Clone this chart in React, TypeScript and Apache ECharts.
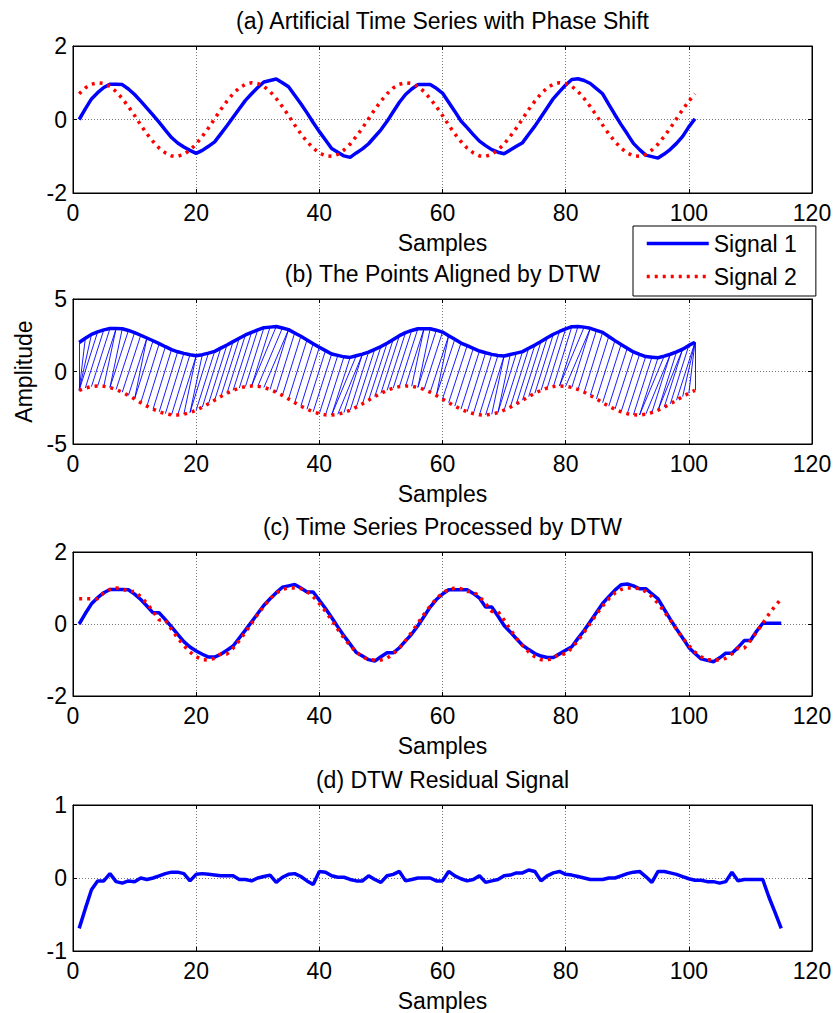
import React, { useEffect, useRef } from "react";
import * as echarts from "echarts";

// ---------- data ----------
// Signal 1 (blue), samples 1..101
const signal1: number[] = [
  0.0, 0.29, 0.56, 0.73, 0.87, 0.96, 0.96, 0.95, 0.83, 0.68,
  0.5, 0.31, 0.12, -0.08, -0.29, -0.49, -0.64, -0.75, -0.84, -0.92,
  -0.84, -0.73, -0.61, -0.39, -0.17, 0.06, 0.29, 0.52, 0.7, 0.87,
  1.02, 1.06, 1.1, 1.0, 0.89, 0.66, 0.43, 0.18, -0.08, -0.33,
  -0.56, -0.79, -0.89, -0.99, -1.03, -0.91, -0.8, -0.66, -0.47, -0.28,
  -0.05, 0.21, 0.47, 0.68, 0.83, 0.95, 0.95, 0.95, 0.85, 0.72,
  0.47, 0.22, -0.04, -0.22, -0.41, -0.59, -0.71, -0.82, -0.89, -0.93,
  -0.83, -0.73, -0.63, -0.4, -0.18, 0.07, 0.32, 0.57, 0.76, 0.94,
  1.09, 1.11, 1.06, 0.98, 0.84, 0.7, 0.41, 0.13, -0.14, -0.39,
  -0.65, -0.82, -0.97, -1.01, -1.05, -0.94, -0.81, -0.65, -0.46, -0.2,
  0.02,
];

// Signal 2 (red dotted), samples 1..101
const signal2: number[] = [
  0.7, 0.86, 0.96, 1.0, 0.98, 0.9, 0.76, 0.57, 0.35, 0.11,
  -0.15, -0.39, -0.6, -0.78, -0.91, -0.99, -1.0, -0.95, -0.83, -0.67,
  -0.46, -0.23, 0.02, 0.27, 0.5,
  0.7, 0.86, 0.96, 1.0, 0.98, 0.9, 0.76, 0.57, 0.35, 0.11,
  -0.15, -0.39, -0.6, -0.78, -0.91, -0.99, -1.0, -0.95, -0.83, -0.67,
  -0.46, -0.23, 0.02, 0.27, 0.5,
  0.7, 0.86, 0.96, 1.0, 0.98, 0.9, 0.76, 0.57, 0.35, 0.11,
  -0.15, -0.39, -0.6, -0.78, -0.91, -0.99, -1.0, -0.95, -0.83, -0.67,
  -0.46, -0.23, 0.02, 0.27, 0.5,
  0.7, 0.86, 0.96, 1.0, 0.98, 0.9, 0.76, 0.57, 0.35, 0.11,
  -0.15, -0.39, -0.6, -0.78, -0.91, -0.99, -1.0, -0.95, -0.83, -0.67,
  -0.46, -0.23, 0.02, 0.27, 0.5,
  0.7,
];

// DTW warping path (1-based sample indices of Signal 1 and Signal 2), 115 steps
const pathI: number[] = [
  1, 2, 3, 4, 5, 6, 7, 7, 8, 9, 10, 11, 12, 12, 13, 14, 15, 16, 17, 18,
  19, 20, 20, 21, 22, 23, 24, 25, 26, 27, 28, 29, 30, 31, 32, 33, 34, 35, 35, 36,
  37, 38, 39, 40, 41, 42, 43, 44, 45, 46, 47, 47, 48, 49, 50, 51, 52, 53, 54, 55,
  56, 57, 57, 58, 59, 60, 61, 61, 62, 63, 64, 65, 66, 67, 68, 69, 70, 70, 71, 72,
  73, 74, 75, 76, 77, 78, 79, 80, 81, 82, 83, 84, 84, 85, 86, 87, 88, 89, 90, 91,
  92, 93, 94, 95, 96, 97, 97, 98, 99, 99, 100, 101, 101, 101, 101,
];
const pathJ: number[] = [
  1, 1, 1, 1, 2, 3, 4, 5, 6, 6, 7, 8, 9, 10, 10, 11, 12, 13, 14, 15,
  16, 17, 18, 19, 19, 20, 21, 22, 23, 24, 25, 26, 27, 28, 29, 29, 30, 31, 32, 33,
  34, 35, 36, 37, 38, 39, 40, 41, 42, 42, 43, 44, 45, 46, 47, 48, 49, 50, 51, 52,
  53, 54, 55, 56, 56, 57, 58, 59, 59, 60, 61, 62, 63, 64, 65, 66, 67, 68, 69, 69,
  70, 71, 72, 73, 74, 75, 76, 77, 78, 79, 79, 80, 81, 82, 83, 84, 85, 86, 87, 88,
  89, 90, 91, 92, 92, 93, 94, 95, 95, 96, 97, 98, 99, 100, 101,
];

// DTW residual signal (panel d), steps 1..115
const residual: number[] = [
  -0.69, -0.42, -0.16, -0.04, -0.04, 0.06, -0.05, -0.07, -0.04, -0.05,
  0.0, -0.02, 0.0, 0.03, 0.06, 0.08, 0.08, 0.06, -0.04, 0.05,
  0.06, 0.05, 0.04, 0.03, 0.03, 0.03, -0.02, -0.02, -0.04, 0.0,
  0.02, 0.04, -0.06, 0.01, 0.05, 0.06, 0.02, -0.04, -0.09, 0.09,
  0.08, 0.03, 0.01, 0.01, -0.02, -0.04, -0.04, 0.03, -0.02, -0.06,
  0.03, 0.05, 0.09, -0.04, -0.02, 0.0, 0.0, 0.0, -0.04, -0.04,
  0.09, 0.03, -0.01, -0.04, -0.02, 0.03, -0.06, -0.04, -0.02, 0.03,
  0.04, 0.07, 0.07, 0.11, 0.09, -0.04, 0.03, 0.07, 0.09, 0.05,
  0.04, 0.02, 0.0, -0.02, -0.02, -0.02, 0.0, 0.0, 0.03, 0.06,
  0.08, 0.09, 0.02, -0.06, 0.09, 0.09, 0.07, 0.05, 0.02, -0.01,
  -0.03, -0.03, -0.05, -0.05, -0.07, -0.05, 0.08, -0.04, -0.02, -0.02,
  -0.02, -0.02, -0.26, -0.47, -0.69,
];

// vertical offset used in panel (b)
const alignOffset = 2;

const titles = [
  "(a) Artificial Time Series with Phase Shift",
  "(b) The Points Aligned by DTW",
  "(c) Time Series Processed by DTW",
  "(d) DTW Residual Signal",
];
const yLimits = [2, 5, 2, 1];
const xTicks = { min: 0, max: 120, interval: 20 };

// ---------- layout ----------
const FONT = "'Liberation Sans', Arial, Helvetica, sans-serif";
const FS = 23;
const BLUE = "#0000ff";
const RED = "#ff0000";
const GRID_LEFT = 73;
const GRID_RIGHT = 23;
const grids = [
  { top: 46, height: 147 },
  { top: 299, height: 145 },
  { top: 552, height: 144 },
  { top: 805, height: 146 },
];

function buildOption() {
  const idx = (n: number) => Array.from({ length: n }, (_, k) => k + 1);
  const s1Pts = signal1.map((v, k) => [k + 1, v]);
  const s2Pts = signal2.map((v, k) => [k + 1, v]);
  const s1Up = signal1.map((v, k) => [k + 1, v + alignOffset]);
  const s2Down = signal2.map((v, k) => [k + 1, v - alignOffset]);
  const links = pathI.map((i, k) => ({
    coords: [
      [i, signal1[i - 1] + alignOffset],
      [pathJ[k], signal2[pathJ[k] - 1] - alignOffset],
    ],
  }));
  const warp1 = idx(pathI.length).map((k) => [k, signal1[pathI[k - 1] - 1]]);
  const warp2 = idx(pathJ.length).map((k) => [k, signal2[pathJ[k - 1] - 1]]);
  const resPts = residual.map((v, k) => [k + 1, v]);

  const plotW = 835 - GRID_LEFT - GRID_RIGHT;
  const cx = GRID_LEFT + plotW / 2;

  const xAxis: any[] = [];
  const yAxis: any[] = [];
  grids.forEach((g, gi) => {
    xAxis.push({
      gridIndex: gi,
      type: "value",
      ...xTicks,
      axisLine: { show: true, onZero: false, lineStyle: { color: "#000", width: 1 } },
      axisTick: { show: true, inside: true, length: 4, lineStyle: { color: "#000" } },
      axisLabel: { color: "#000", fontSize: FS, fontFamily: FONT, margin: 8 },
      splitLine: { show: true, lineStyle: { color: "#777", type: [1, 2], width: 1 } },
      name: "Samples",
      nameLocation: "middle",
      nameGap: 38,
      nameTextStyle: { color: "#000", fontSize: FS, fontFamily: FONT },
    });
    xAxis.push({
      gridIndex: gi,
      type: "value",
      position: "top",
      ...xTicks,
      axisLine: { show: true, onZero: false, lineStyle: { color: "#000", width: 1 } },
      axisTick: { show: true, inside: true, length: 4, lineStyle: { color: "#000" } },
      axisLabel: { show: false },
      splitLine: { show: false },
    });
    const lim = yLimits[gi];
    yAxis.push({
      gridIndex: gi,
      type: "value",
      min: -lim,
      max: lim,
      interval: lim,
      axisLine: { show: true, onZero: false, lineStyle: { color: "#000", width: 1 } },
      axisTick: { show: true, inside: true, length: 4, lineStyle: { color: "#000" } },
      axisLabel: { color: "#000", fontSize: FS, fontFamily: FONT, margin: 6 },
      splitLine: { show: true, lineStyle: { color: "#777", type: [1, 2], width: 1 } },
      ...(gi === 1
        ? {
            name: "Amplitude",
            nameLocation: "middle",
            nameRotate: 90,
            nameGap: 31,
            nameTextStyle: { color: "#000", fontSize: FS, fontFamily: FONT },
          }
        : {}),
    });
    yAxis.push({
      gridIndex: gi,
      type: "value",
      position: "right",
      min: -lim,
      max: lim,
      interval: lim,
      axisLine: { show: true, onZero: false, lineStyle: { color: "#000", width: 1 } },
      axisTick: { show: true, inside: true, length: 4, lineStyle: { color: "#000" } },
      axisLabel: { show: false },
      splitLine: { show: false },
    });
  });

  const solid = { color: BLUE, width: 3.5 };
  const dotted = { color: RED, width: 3.5, type: [3, 5] as number[], cap: "butt" };
  const lineBase = {
    type: "line",
    symbol: "none",
    showSymbol: false,
    smooth: false,
    clip: true,
    z: 3,
  };

  return {
    animation: false,
    backgroundColor: "#fff",
    grid: grids.map((g) => ({
      left: GRID_LEFT,
      right: GRID_RIGHT,
      top: g.top,
      height: g.height,
      show: true,
      borderColor: "#000",
      borderWidth: 1,
      backgroundColor: "#fff",
    })),
    xAxis,
    yAxis,
    legend: {
      data: ["Signal 1", "Signal 2"],
      orient: "vertical",
      left: 633,
      top: 226,
      backgroundColor: "#fff",
      borderColor: "#000",
      borderWidth: 1,
      borderRadius: 0,
      padding: [6, 19, 8, 12],
      itemWidth: 62,
      itemHeight: 14,
      itemGap: 10,
      selectedMode: false,
      itemStyle: { opacity: 0, borderWidth: 0 },
      lineStyle: { width: 3.5 },
      textStyle: { color: "#000", fontSize: FS, fontFamily: FONT },
    },
    graphic: titles.map((t, gi) => ({
      type: "text",
      x: cx,
      y: grids[gi].top - 25,
      style: {
        text: t,
        fill: "#000",
        font: `${FS}px ${FONT}`,
        align: "center",
        verticalAlign: "middle",
      },
    })),
    series: [
      { ...lineBase, name: "Signal 1", xAxisIndex: 0, yAxisIndex: 0, data: s1Pts, lineStyle: solid, itemStyle: { color: BLUE } },
      { ...lineBase, name: "Signal 2", xAxisIndex: 0, yAxisIndex: 0, data: s2Pts, lineStyle: dotted, itemStyle: { color: RED } },
      {
        type: "lines",
        name: "DTW links",
        coordinateSystem: "cartesian2d",
        xAxisIndex: 2,
        yAxisIndex: 2,
        data: links,
        lineStyle: { color: BLUE, width: 0.9, opacity: 1 },
        z: 2,
        silent: true,
      },
      { ...lineBase, name: "Signal 1 shifted", xAxisIndex: 2, yAxisIndex: 2, data: s1Up, lineStyle: solid, itemStyle: { color: BLUE } },
      { ...lineBase, name: "Signal 2 shifted", xAxisIndex: 2, yAxisIndex: 2, data: s2Down, lineStyle: dotted, itemStyle: { color: RED } },
      { ...lineBase, name: "Signal 1 warped", xAxisIndex: 4, yAxisIndex: 4, data: warp1, lineStyle: solid, itemStyle: { color: BLUE } },
      { ...lineBase, name: "Signal 2 warped", xAxisIndex: 4, yAxisIndex: 4, data: warp2, lineStyle: dotted, itemStyle: { color: RED }, z: 4 },
      { ...lineBase, name: "Residual", xAxisIndex: 6, yAxisIndex: 6, data: resPts, lineStyle: solid, itemStyle: { color: BLUE } },
    ],
  };
}

export default function App() {
  const ref = useRef<HTMLDivElement>(null);
  useEffect(() => {
    if (!ref.current) return;
    const chart = echarts.init(ref.current, null, { renderer: "svg" });
    chart.setOption(buildOption() as any);
    return () => chart.dispose();
  }, []);
  return (
    <div
      ref={ref}
      style={{ position: "absolute", left: 0, top: 0, width: 835, height: 1013, background: "#fff" }}
    />
  );
}
